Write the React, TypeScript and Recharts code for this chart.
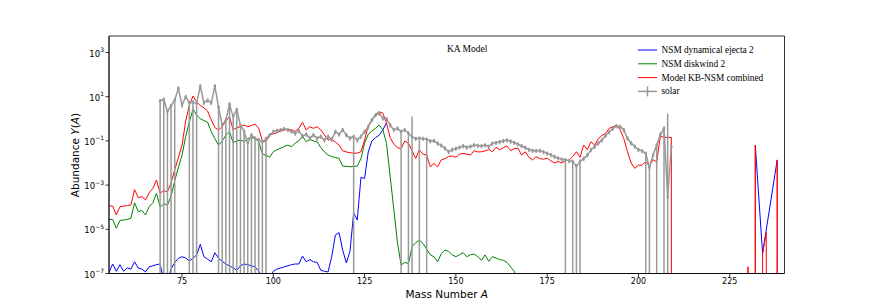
import React from 'react';
import { ComposedChart, Line, ErrorBar, XAxis, YAxis, ReferenceArea } from 'recharts';

// log10 of the abundance, one value per mass number; null = zero abundance
const RED_FIRST_A = 55;
const redLog = [
  -3.93, -3.95, -4.35, -3.98, -3.95, -3.93, -3.9, -3.2, -3.57, -3.52, // 55-64
  -3.67, -3.35, -3.15, -2.77, -3.37, -3.25, -3.3, -2.9, -2.3, -1.75, // 65-74
  -1.2, -0.1, 0.62, 1.03, 0.77, 0.6, 0.5, 0.35, -0.05, -0.4, // 75-84
  -0.5, -0.36, -0.1, 0.1, -0.5, -0.4, -0.36, -0.28, -0.36, -0.3, // 85-94
  -0.24, -0.43, -0.99, -1.03, -0.73, -0.68, -0.63, -0.55, -0.5, -0.48, // 95-104
  -0.5, -0.57, -0.43, -0.16, -0.5, -0.36, -0.43, -0.36, -0.5, -0.73, // 105-114
  -0.96, -0.93, -1.05, -1.19, -1.44, -1.5, -1.53, -1.56, -1.55, -1.49, // 115-124
  -0.96, -0.3, -0.05, 0.2, 0.32, 0.25, -0.2, -0.85, -1.15, -1.3, // 125-134
  -1.35, -1.0, -1.1, -1.45, -1.79, -1.4, -1.6, -1.64, -2.17, -2.02, // 135-144
  -2.17, -1.86, -1.8, -1.71, -1.68, -1.74, -1.6, -1.56, -1.6, -1.64, // 145-154
  -1.44, -1.5, -1.49, -1.45, -1.39, -1.49, -1.29, -1.4, -1.3, -1.23, // 155-164
  -1.44, -1.35, -1.33, -1.64, -1.49, -1.74, -1.86, -1.71, -1.8, -1.83, // 165-174
  -1.78, -1.9, -2.0, -1.93, -2.0, -1.9, -1.86, -1.71, -1.49, -1.74, // 175-184
  -1.19, -1.4, -1.04, -1.19, -0.9, -0.75, -0.66, -0.43, -0.36, -0.28, // 185-194
  -0.5, -0.9, -1.49, -2.0, -2.24, -2.1, -2.1, -1.93, -2.14, -1.85, // 195-204
  -1.95, -0.78, -0.84, -0.84, -0.84, // 205-209
];
const redTail: [number, number | null][] = [
  [210, null], [229, null], [230, -6.7], [231, null], [232, -1.19], [233, null],
  [234, -6.1], [235, -5.15], [236, null], [237, null], [238, -1.86], [239, null], [240, null],
];

const GREEN_FIRST_A = 55;
const greenLog = [
  -4.55, -4.55, -4.95, -4.6, -4.58, -4.55, -4.5, -3.8, -4.2, -4.15, // 55-64
  -4.35, -3.98, -3.8, -3.37, -4.0, -3.85, -3.9, -3.5, -2.8, -2.2, // 65-74
  -1.64, -0.81, -0.13, 0.43, 0.17, 0.0, -0.08, -0.15, -0.58, -0.9, // 75-84
  -1.19, -1.0, -0.75, -0.58, -1.08, -1.0, -0.96, -1.03, -0.9, -0.84, // 85-94
  -0.9, -1.03, -1.59, -1.65, -1.74, -1.49, -1.4, -1.33, -1.25, -1.19, // 95-104
  -1.26, -1.1, -1.0, -0.78, -1.04, -0.93, -1.0, -1.04, -1.3, -1.5, // 105-114
  -1.64, -1.71, -1.75, -1.79, -2.14, -2.15, -2.17, -2.15, -2.14, -1.8, // 115-124
  -1.1, -0.7, -0.55, -0.43, -0.28, -0.5, -1.1, -2.6, -4.1, -5.6, // 125-134
  -6.62, -6.5, -6.55, -5.79, -5.6, -5.49, -5.64, -5.9, -6.16, -6.24, // 135-144
  -6.47, -6.1, -5.94, -6.0, -6.16, -6.24, -6.15, -6.06, -6.24, -6.15, // 145-154
  -6.12, -6.24, -6.4, -6.16, -6.45, -6.24, -6.3, -6.37, -6.4, -6.5, // 155-164
  -6.7, -6.9, -7.5, // 165-167
];

const BLUE_FIRST_A = 55;
const blueLog = [
  -6.95, -6.57, -6.9, -6.6, -6.9, -6.75, -6.8, -6.47, -6.75, -6.8, // 55-64
  -6.93, -6.7, -6.65, -6.6, -6.57, -7.3, -7.3, -6.8, -6.5, -6.31, // 65-74
  -6.24, -6.3, -6.44, -6.3, -6.16, -5.68, -6.24, -6.35, -6.47, -6.06, // 75-84
  -6.31, -6.45, -6.57, -6.65, -6.75, -6.85, -6.65, -6.57, -6.6, -6.65, // 85-94
  -6.7, -6.9, -7.2, -7.3, -7.2, -6.9, -6.8, -6.75, -6.7, -6.65, // 95-104
  -6.6, -6.57, -6.57, -6.21, -6.47, -6.37, -6.47, -6.5, -6.85, -6.9, // 105-114
  -6.93, -6.24, -5.26, -5.15, -5.94, -6.52, -6.0, -4.25, -4.58, -2.65, // 115-124
  -2.7, -1.5, -1.0, -0.85, -0.74, -0.5, -0.18, // 125-131
];
const blueTail: [number, number][] = [[232, -1.19], [234, -6.09], [238, -1.86]];

const SOLAR_FIRST_A = 69;
const solarLog = [
  0.81, 0.88, 0.32, 0.6, 0.85, 1.38, 0.62, 1.0, 0.73, 0.75, 0.7, // 69-79
  1.48, 0.73, 0.84, 0.73, 1.48, 0.52, -0.28, -0.06, 0.66, 0.1, // 80-89
  0.42, -0.3, -0.56, -1.11, -0.73, -0.88, -0.95, -1.05, -0.9, -0.73, // 90-99
  -0.58, -0.53, -0.5, -0.45, -0.5, -0.57, -0.66, -0.55, -0.78, -0.7, // 100-109
  -0.88, -0.73, -0.88, -0.8, -0.96, -0.8, -0.93, -0.58, -0.7, -0.5, // 110-119
  -0.73, -0.88, -0.8, -0.96, -0.8, -0.58, -0.36, -0.05, 0.17, 0.25, // 120-129
  0.02, 0.0, -0.28, -0.5, -0.43, -0.58, -0.5, -0.65, -0.81, -0.9, // 130-139
  -0.88, -0.9, -0.93, -1.0, -0.99, -1.11, -1.2, -1.33, -1.49, -1.4, // 140-149
  -1.35, -1.29, -1.23, -1.29, -1.25, -1.19, -1.21, -1.23, -1.19, -1.26, // 150-159
  -1.11, -1.08, -1.04, -1.0, -0.96, -1.02, -1.08, -1.15, -1.23, -1.3, // 160-169
  -1.39, -1.44, -1.44, -1.44, -1.5, -1.56, -1.63, -1.71, -1.78, -1.83, // 170-179
  -1.86, -1.9, -1.93, -2.14, -1.93, -1.8, -1.64, -1.4, -1.26, -1.1, // 180-189
  -0.96, -0.75, -0.6, -0.43, -0.33, -0.35, -0.5, -0.88, -1.1, -1.25, // 190-199
  -1.4, -1.45, -1.57, -2.2, -1.64, -1.19, -0.71, -0.43, -3.53, -1.27, // 200-209
];
// mass numbers whose lower error reaches below the plot floor
const solarLongErrA = [
  69, 70, 71, 72, 73, 77, 78, 79, 85, 86, 87, 88, 89, 90, 91, 92, 93, 94, 95, 96, 97, 98,
  122, 135, 137, 138, 140, 142, 180, 182, 183, 184, 202, 203, 205, 207, 208,
];
const solarUpperLog: Record<number, number> = { 138: 0.1, 208: 0.24 };
const SOLAR_REL_ERR = 0.22;

const xTicks = [75, 100, 125, 150, 175, 200, 225];
const yTicks = [1e-7, 1e-5, 1e-3, 1e-1, 1e1, 1e3];

const series = [
  { name: 'NSM dynamical ejecta 2', color: '#0000ff' },
  { name: 'NSM diskwind 2', color: '#008000' },
  { name: 'Model KB-NSM combined', color: '#ff0000' },
  { name: 'solar', color: '#999999' },
];

const X_MIN = 55;
const X_MAX = 240;
const Y_FLOOR = 1e-7;
const Y_TOP = 5.6e3;
const ZERO_Y = 1e-300; // matplotlib clips zeros on a log axis, lines drop straight down

const toY = (v: number | null) => (v === null ? ZERO_Y : Math.pow(10, v));

const redData = [
  ...redLog.map((v, i) => ({ A: RED_FIRST_A + i, y: toY(v) })),
  ...redTail.map(([a, v]) => ({ A: a, y: toY(v) })),
];
const greenData = greenLog.map((v, i) => ({ A: GREEN_FIRST_A + i, y: toY(v) }));
const blueData = [
  ...blueLog.map((v, i) => ({ A: BLUE_FIRST_A + i, y: toY(v) })),
  { A: 132, y: null },
  ...blueTail.map(([a, v]) => ({ A: a, y: toY(v) })),
];
const solarData = solarLog.map((v, i) => {
  const A = SOLAR_FIRST_A + i;
  const y = Math.pow(10, v);
  const low = solarLongErrA.includes(A) ? y - Y_FLOOR : y * SOLAR_REL_ERR;
  const high = solarUpperLog[A] !== undefined ? Math.pow(10, solarUpperLog[A]) - y : y * SOLAR_REL_ERR;
  return { A, y, err: [low, high] };
});

const LogTick = (props: any) => {
  const { x, y, payload } = props;
  const exp = Math.round(Math.log10(payload.value));
  const expText = exp < 0 ? '\u2212' + Math.abs(exp) : String(exp);
  return (
    <text x={x} y={y + 4} textAnchor="end" fontFamily="DejaVu Sans" fontSize={8.5} fill="#000">
      10<tspan dy={-4.5} fontSize={6}>{expText}</tspan>
    </text>
  );
};

const XLabel = () => (
  <text x={446.75} y={298} textAnchor="middle" fontFamily="DejaVu Sans" fontSize={10.5} fill="#000">
    Mass Number <tspan fontStyle="italic">A</tspan>
  </text>
);

const YLabel = () => (
  <text
    x={75}
    y={155}
    transform="rotate(-90, 75, 155)"
    textAnchor="middle"
    dominantBaseline="central"
    fontFamily="DejaVu Sans"
    fontSize={10.5}
    fill="#000"
  >
    Abundance <tspan fontStyle="italic">Y</tspan>(<tspan fontStyle="italic">A</tspan>)
  </text>
);

// title text and legend, drawn over the chart
const Overlay = () => (
  <svg width={872} height={308} style={{ position: 'absolute', left: 0, top: 0, pointerEvents: 'none' }}>
    <text x={447} y={51.5} fontFamily="Liberation Serif" fontSize={9.5} fill="#000">
      KA Model
    </text>
    {series.map((s, i) => {
      const cy = 50 + i * 13.8;
      return (
        <g key={s.name}>
          <line x1={638} x2={657} y1={cy} y2={cy} stroke={s.color} strokeWidth={s.name === 'solar' ? 1.5 : 1} />
          {s.name === 'solar' && (
            <line x1={647.5} x2={647.5} y1={cy - 5} y2={cy + 5} stroke={s.color} strokeWidth={1.5} />
          )}
          <text x={661.5} y={cy} dominantBaseline="central" fontFamily="Liberation Serif" fontSize={9.3} fill="#000">
            {s.name}
          </text>
        </g>
      );
    })}
  </svg>
);

export default function App() {
  const [blue, green, red, solar] = series;
  return (
    <div style={{ position: 'absolute', left: 0, top: 0, width: 872, height: 308, background: '#fff' }}>
      <ComposedChart width={872} height={308} margin={{ top: 36, right: 87.5, bottom: 0, left: 0 }}>
        <XAxis
          dataKey="A"
          type="number"
          domain={[X_MIN, X_MAX]}
          allowDataOverflow
          ticks={xTicks}
          interval={0}
          height={34.5}
          tickSize={3.5}
          tickMargin={1}
          tick={{ fontFamily: 'DejaVu Sans', fontSize: 8, fill: '#000' }}
          tickLine={{ stroke: '#000', strokeWidth: 0.8 }}
          axisLine={{ stroke: '#000', strokeWidth: 0.8 }}
          label={XLabel}
        />
        <YAxis
          type="number"
          scale="log"
          domain={[Y_FLOOR, Y_TOP]}
          allowDataOverflow
          ticks={yTicks}
          interval={0}
          width={109}
          tickSize={3.5}
          tickMargin={1.5}
          tick={LogTick}
          tickLine={{ stroke: '#000', strokeWidth: 0.8 }}
          axisLine={{ stroke: '#000', strokeWidth: 0.8 }}
          label={YLabel}
        />
        <ReferenceArea
          x1={X_MIN}
          x2={X_MAX}
          y1={Y_FLOOR}
          y2={Y_TOP}
          fill="none"
          fillOpacity={0}
          stroke="#000"
          strokeWidth={0.8}
          ifOverflow="visible"
        />
        <Line data={blueData} dataKey="y" type="linear" stroke={blue.color} strokeWidth={1} dot={false} activeDot={false} isAnimationActive={false} />
        <Line data={greenData} dataKey="y" type="linear" stroke={green.color} strokeWidth={1} dot={false} activeDot={false} isAnimationActive={false} />
        <Line data={redData} dataKey="y" type="linear" stroke={red.color} strokeWidth={1} dot={false} activeDot={false} isAnimationActive={false} />
        <Line
          data={solarData}
          dataKey="y"
          type="linear"
          stroke={solar.color}
          strokeWidth={1.5}
          dot={{ r: 1.3, fill: solar.color, stroke: 'none' }}
          activeDot={false}
          isAnimationActive={false}
        >
          <ErrorBar dataKey="err" direction="y" width={0} stroke={solar.color} strokeWidth={1.5} isAnimationActive={false} />
        </Line>
      </ComposedChart>
      <Overlay />
    </div>
  );
}
